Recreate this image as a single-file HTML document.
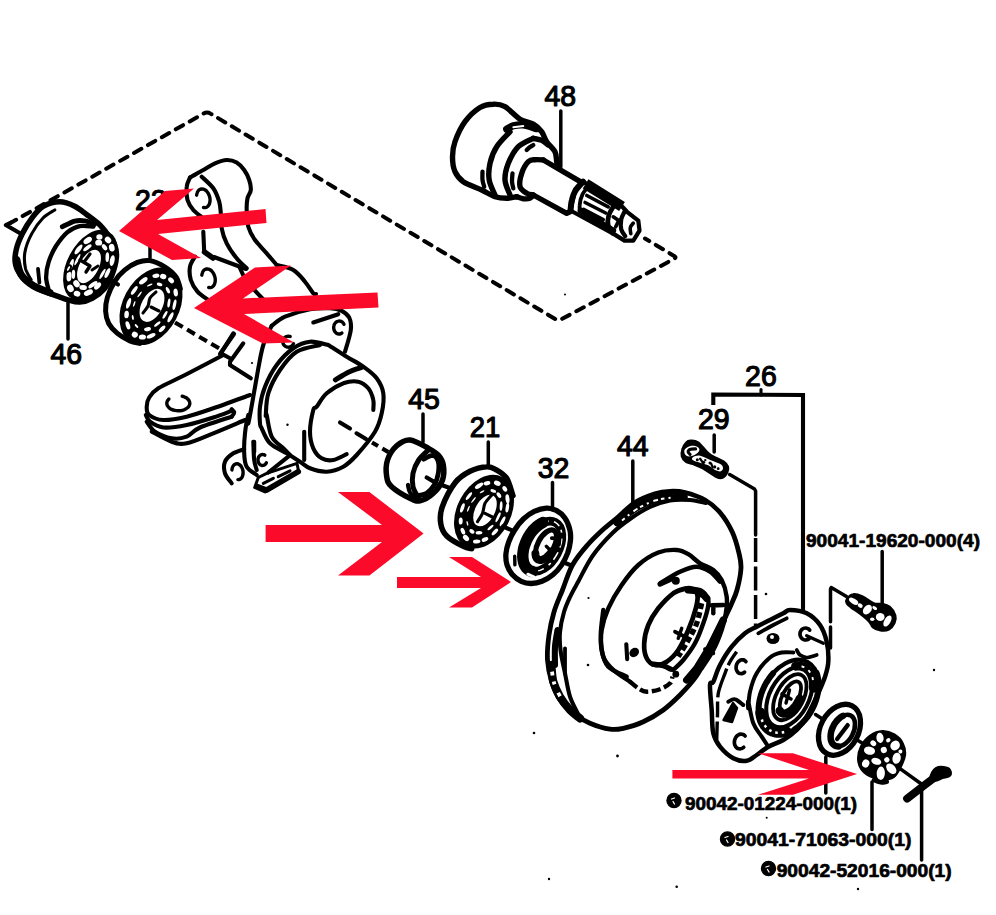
<!DOCTYPE html>
<html lang="en">
<head>
<meta charset="utf-8">
<title>Front axle hub exploded diagram</title>
<style>
html,body{margin:0;padding:0;background:#fff;}
body{width:996px;height:915px;overflow:hidden;}
svg{display:block;}
svg path,svg polyline,svg line,svg ellipse{stroke-linecap:round;stroke-linejoin:round;}
</style>
</head>
<body>
<svg width="996" height="915" viewBox="0 0 996 915">
<rect width="996" height="915" fill="#fff"/>
<g id="frame">
<path d="M10.5 223 L203.5 113.6 Q207 111.4 210.5 113.6 L556 319.5 Q558.5 321 561 319.5 L674.5 258.6 Q676.5 257.4 674.5 256.2 L645 238.5" fill="none" stroke="#000" stroke-width="4" stroke-dasharray="8.4 7.6" style="stroke-linecap:round" stroke-dashoffset="2"/>
<polyline points="11,222.5 5.8,225 20.5,233.5" fill="none" stroke="#000" stroke-width="4.1" />
</g>
<g id="part46">
<path d="M59.8 201.8C65 201.8 70.2 204 74.7 206.2C79.3 208.4 83.2 212 87.2 214.9C91.1 217.8 95.1 220.5 98.4 223.6C101.7 226.7 104.4 230.1 107.1 233.6C109.8 237.1 113 240.9 114.6 244.8C116.1 248.7 116.9 252.3 116.4 257.2C116 262.2 114.1 269.5 112.1 274.7C110.1 279.9 107.9 284.4 104.6 288.4C101.3 292.3 96.3 296.1 92.2 298.3C88 300.6 83.9 301.9 79.7 302.1C75.6 302.3 72.2 301 67.2 299.6C62.3 298.1 55.2 295.4 49.8 293.4C44.4 291.3 39.4 289.8 34.9 287.1C30.3 284.4 25.6 280.9 22.4 277.2C19.2 273.4 16.6 269.3 15.6 264.7C14.5 260.2 15 255 16.2 249.8C17.3 244.6 19.7 239 22.4 233.6C25.1 228.2 28.9 222 32.4 217.4C35.9 212.8 39 208.8 43.6 206.2C48.2 203.6 54.6 201.8 59.8 201.8Z" fill="#fff" stroke="#000" stroke-width="5.5" />
<path d="M54.8 209.9C52.8 211.3 46.8 214.1 43 218C39.1 222 34.8 227.9 31.8 233.6C28.7 239.3 25.9 246.5 24.9 252.3C23.9 258.1 24.5 263.9 25.5 268.5C26.6 273 30.2 277.8 31.1 279.7" fill="none" stroke="#000" stroke-width="3.1" />
<path d="M16.8 259.7C17.5 262.2 18.4 270.3 21.2 274.7C24 279 28.9 282.9 33.6 285.9C38.4 288.9 47.1 291.6 49.8 292.7" fill="none" stroke="#000" stroke-width="7.2" />
<path d="M62.3 226.7C64.3 225.8 71 222.1 74.7 221.1C78.5 220.2 81.4 220.4 84.7 220.9C88 221.4 93 223.7 94.6 224.2" fill="none" stroke="#000" stroke-width="4.8" />
<path d="M93.4 226.7C91.1 226.6 84.1 225.2 79.7 226.1C75.3 227 71.2 229 67.2 232.3C63.3 235.7 59.2 241.1 56 246C52.9 251 50.2 257 48.6 262.2C46.9 267.4 46.1 272.6 46.1 277.2C46.1 281.7 48.2 287.6 48.6 289.6" fill="none" stroke="#000" stroke-width="4.3" />
<line x1="38" y1="268.8" x2="39.4" y2="282.5" stroke="#000" stroke-width="3.8" />
<ellipse cx="90.5" cy="265.5" rx="21.5" ry="36.5" transform="rotate(28 90.5 265.5)" fill="#000" stroke="#000" stroke-width="3.6" />
<ellipse cx="107.4" cy="273.1" rx="5.3" ry="1.9" fill="#fff" transform="rotate(116 107.4 273.1)"/>
<ellipse cx="97.6" cy="286.0" rx="4.3" ry="2.4" fill="#fff" transform="rotate(135 97.6 286.0)"/>
<ellipse cx="88.4" cy="292.6" rx="4.8" ry="2.7" fill="#fff" transform="rotate(156 88.4 292.6)"/>
<ellipse cx="77.0" cy="293.7" rx="3.4" ry="2.8" fill="#fff" transform="rotate(21 77.0 293.7)"/>
<ellipse cx="70.4" cy="288.4" rx="3.8" ry="3.2" fill="#fff" transform="rotate(63 70.4 288.4)"/>
<ellipse cx="69.0" cy="276.5" rx="5.0" ry="2.5" fill="#fff" transform="rotate(92 69.0 276.5)"/>
<ellipse cx="71.3" cy="264.6" rx="5.9" ry="1.9" fill="#fff" transform="rotate(109 71.3 264.6)"/>
<ellipse cx="78.5" cy="249.4" rx="5.9" ry="2.2" fill="#fff" transform="rotate(128 78.5 249.4)"/>
<ellipse cx="87.7" cy="240.5" rx="4.7" ry="2.8" fill="#fff" transform="rotate(145 87.7 240.5)"/>
<ellipse cx="99.4" cy="237.0" rx="3.1" ry="2.8" fill="#fff" transform="rotate(0 99.4 237.0)"/>
<ellipse cx="108.0" cy="240.0" rx="3.5" ry="2.9" fill="#fff" transform="rotate(45 108.0 240.0)"/>
<ellipse cx="111.8" cy="247.7" rx="3.9" ry="2.8" fill="#fff" transform="rotate(77 111.8 247.7)"/>
<ellipse cx="112.2" cy="260.6" rx="5.5" ry="2.4" fill="#fff" transform="rotate(101 112.2 260.6)"/>
<ellipse cx="102.5" cy="273.8" rx="5.9" ry="1.4" fill="#fff" transform="rotate(120 102.5 273.8)"/>
<ellipse cx="92.9" cy="284.7" rx="5.4" ry="2.0" fill="#fff" transform="rotate(144 92.9 284.7)"/>
<ellipse cx="83.1" cy="287.5" rx="3.8" ry="2.5" fill="#fff" transform="rotate(2 83.1 287.5)"/>
<ellipse cx="76.5" cy="283.8" rx="3.8" ry="2.9" fill="#fff" transform="rotate(54 76.5 283.8)"/>
<ellipse cx="73.4" cy="274.4" rx="4.6" ry="1.8" fill="#fff" transform="rotate(92 73.4 274.4)"/>
<ellipse cx="77.4" cy="259.6" rx="6.2" ry="1.3" fill="#fff" transform="rotate(117 77.4 259.6)"/>
<ellipse cx="87.4" cy="247.7" rx="5.0" ry="1.9" fill="#fff" transform="rotate(143 87.4 247.7)"/>
<ellipse cx="98.7" cy="242.7" rx="3.5" ry="2.9" fill="#fff" transform="rotate(5 98.7 242.7)"/>
<ellipse cx="104.5" cy="247.3" rx="3.5" ry="2.1" fill="#fff" transform="rotate(53 104.5 247.3)"/>
<ellipse cx="107.3" cy="257.2" rx="4.9" ry="1.8" fill="#fff" transform="rotate(92 107.3 257.2)"/>
<ellipse cx="89" cy="266.5" rx="9.5" ry="18.2" transform="rotate(28 89 266.5)" fill="#fff" stroke="none" stroke-width="0" />
<polyline points="80,260 90,266 86,272" fill="none" stroke="#000" stroke-width="3.4" />
<polyline points="90,254 84,262" fill="none" stroke="#000" stroke-width="3.1" />
<polyline points="92,270 98,266" fill="none" stroke="#000" stroke-width="2.9" />
<ellipse cx="68.5" cy="268.5" rx="1.9" ry="3.6" transform="rotate(30 68.5 268.5)" fill="#fff" stroke="#000" stroke-width="1.9" />
</g>
<g id="part22">
<path d="M180.3 288.6C179.6 286.6 178.5 280.4 175.9 276.8C173.3 273.1 169.1 269.5 164.7 266.8C160.4 264.1 154.3 261.3 149.8 260.6C145.2 259.8 141.5 260.9 137.3 262.4C133.2 264 128.6 266.8 124.9 269.9C121.1 273 117.8 276.5 114.9 281.1C112 285.7 109 292.3 107.4 297.3C105.9 302.3 105.4 306.6 105.6 311C105.8 315.4 106.7 319.7 108.7 323.5C110.7 327.2 113.9 330.5 117.4 333.4C120.9 336.3 126.1 339.2 129.9 340.9C133.6 342.6 138.2 343 139.8 343.4" fill="none" stroke="#000" stroke-width="5" />
<ellipse cx="151" cy="306.3" rx="26" ry="39" transform="rotate(28 151 306.3)" fill="#000" stroke="#000" stroke-width="4.3" />
<ellipse cx="170.5" cy="317.3" rx="5.6" ry="1.9" fill="#fff" transform="rotate(118 170.5 317.3)"/>
<ellipse cx="162.1" cy="328.8" rx="4.2" ry="1.9" fill="#fff" transform="rotate(135 162.1 328.8)"/>
<ellipse cx="151.1" cy="335.8" rx="4.7" ry="2.0" fill="#fff" transform="rotate(157 151.1 335.8)"/>
<ellipse cx="142.4" cy="337.0" rx="3.6" ry="2.6" fill="#fff" transform="rotate(1 142.4 337.0)"/>
<ellipse cx="134.8" cy="334.7" rx="3.1" ry="2.9" fill="#fff" transform="rotate(32 134.8 334.7)"/>
<ellipse cx="127.9" cy="325.3" rx="4.2" ry="2.1" fill="#fff" transform="rotate(72 127.9 325.3)"/>
<ellipse cx="126.6" cy="314.5" rx="3.8" ry="2.3" fill="#fff" transform="rotate(93 126.6 314.5)"/>
<ellipse cx="128.6" cy="303.4" rx="5.6" ry="2.0" fill="#fff" transform="rotate(109 128.6 303.4)"/>
<ellipse cx="134.3" cy="290.4" rx="5.2" ry="1.8" fill="#fff" transform="rotate(126 134.3 290.4)"/>
<ellipse cx="143.3" cy="280.8" rx="5.0" ry="2.3" fill="#fff" transform="rotate(143 143.3 280.8)"/>
<ellipse cx="155.9" cy="275.8" rx="3.6" ry="2.2" fill="#fff" transform="rotate(171 155.9 275.8)"/>
<ellipse cx="163.2" cy="276.5" rx="3.2" ry="2.6" fill="#fff" transform="rotate(15 163.2 276.5)"/>
<ellipse cx="171.1" cy="280.3" rx="3.4" ry="2.4" fill="#fff" transform="rotate(49 171.1 280.3)"/>
<ellipse cx="175.7" cy="292.6" rx="4.0" ry="2.2" fill="#fff" transform="rotate(83 175.7 292.6)"/>
<ellipse cx="174.5" cy="304.7" rx="5.4" ry="1.6" fill="#fff" transform="rotate(102 174.5 304.7)"/>
<ellipse cx="165.0" cy="314.9" rx="4.4" ry="1.4" fill="#fff" transform="rotate(119 165.0 314.9)"/>
<ellipse cx="157.3" cy="324.0" rx="4.0" ry="1.3" fill="#fff" transform="rotate(140 157.3 324.0)"/>
<ellipse cx="147.5" cy="329.2" rx="3.5" ry="2.0" fill="#fff" transform="rotate(169 147.5 329.2)"/>
<ellipse cx="136.5" cy="326.0" rx="2.4" ry="1.0" fill="#fff" transform="rotate(47 136.5 326.0)"/>
<ellipse cx="132.8" cy="317.5" rx="2.6" ry="1.0" fill="#fff" transform="rotate(81 132.8 317.5)"/>
<ellipse cx="134.2" cy="303.9" rx="3.0" ry="0.8" fill="#fff" transform="rotate(109 134.2 303.9)"/>
<ellipse cx="139.6" cy="294.4" rx="3.6" ry="0.8" fill="#fff" transform="rotate(127 139.6 294.4)"/>
<ellipse cx="149.7" cy="285.0" rx="3.1" ry="0.9" fill="#fff" transform="rotate(155 149.7 285.0)"/>
<ellipse cx="159.6" cy="284.3" rx="2.9" ry="1.7" fill="#fff" transform="rotate(13 159.6 284.3)"/>
<ellipse cx="167.9" cy="290.2" rx="3.5" ry="1.6" fill="#fff" transform="rotate(64 167.9 290.2)"/>
<ellipse cx="168.9" cy="303.0" rx="4.6" ry="1.4" fill="#fff" transform="rotate(98 168.9 303.0)"/>
<ellipse cx="152" cy="305.3" rx="10.4" ry="17.9" transform="rotate(28 152 305.3)" fill="#fff" stroke="none" stroke-width="0" />
<polyline points="151,307 159,311" fill="none" stroke="#000" stroke-width="3.1" />
<path d="M156 292C155 293 151.3 295.7 150 298C148.7 300.3 149.2 303.5 148 306C146.8 308.5 143.8 311.8 143 313" fill="none" stroke="#000" stroke-width="3.1" />
</g>
<g id="knuckle">
<path d="M190 177.5C192.2 176.2 199.2 172.4 203.3 170C207.5 167.6 211.1 165 215 163.3C218.9 161.7 223.1 160.1 226.7 160C230.3 159.9 233.8 160.8 236.7 162.5C239.6 164.2 242.1 167.1 244.2 170C246.3 172.9 248.1 176.7 249.2 180C250.3 183.3 251.1 186.9 250.8 190C250.6 193.1 248.2 195 247.5 198.3C246.8 201.7 246.5 205.3 246.7 210C246.8 214.7 246.9 221.7 248.3 226.7C249.7 231.7 251.9 235.6 255 240C258.1 244.4 263.1 249.2 266.7 253.3C270.3 257.5 275 263.1 276.7 265" fill="#fff" stroke="#000" stroke-width="4.1" />
<path d="M276.7 265C279.4 265.8 288.6 267.2 293.3 270C298.1 272.8 301.7 277.8 305 281.7C308.3 285.6 311.5 291.3 313.3 293.3C315.2 295.4 315.6 293.9 316 294" fill="none" stroke="#000" stroke-width="4.1" />
<path d="M190 177.5C189.4 179 187.1 182.9 186.7 186.7C186.2 190.4 186.4 196.1 187.5 200C188.6 203.9 190.7 206.9 193.3 210C196 213.1 201.7 216.9 203.3 218.3" fill="none" stroke="#000" stroke-width="4.1" />
<path d="M201.7 176.7C203.6 178.6 210.4 184.2 213.3 188.3C216.2 192.5 217.9 197.5 219.2 201.7C220.4 205.8 220.4 208.9 220.8 213.3C221.2 217.8 220.7 223.3 221.7 228.3C222.6 233.3 224.2 238.3 226.7 243.3C229.2 248.3 233.3 254.2 236.7 258.3C240 262.5 245 266.7 246.7 268.3" fill="none" stroke="#000" stroke-width="4.1" />
<path d="M196.6 195.2C196.7 194.8 196.9 193.5 197.2 192.8C197.4 192.1 197.8 191.5 198.2 190.9C198.6 190.4 199.1 189.9 199.7 189.6C200.2 189.3 200.8 189.1 201.4 189C202 188.9 202.7 189 203.3 189.1C203.9 189.3 204.6 189.6 205.2 190C205.8 190.4 206.4 190.9 206.9 191.5C207.4 192.1 207.9 192.8 208.4 193.6C208.8 194.3 209.1 195.2 209.4 196C209.7 196.9 209.9 197.8 210 198.6C210.1 199.5 210.1 200.4 210 201.2C209.9 202.1 209.7 202.9 209.5 203.6C209.2 204.3 208.9 205 208.5 205.5C208.1 206.1 207.6 206.6 207.1 206.9C206.5 207.2 205.9 207.5 205.3 207.6C204.7 207.7 203.8 207.5 203.5 207.5" fill="none" stroke="#000" stroke-width="3.4" />
<line x1="203.3" y1="231.7" x2="204.2" y2="251.7" stroke="#000" stroke-width="4.1" />
<polyline points="204.5,252 213,258" fill="none" stroke="#000" stroke-width="5.5" />
<line x1="214" y1="257" x2="246" y2="269" stroke="#000" stroke-width="4.1" />
<path d="M195 256.7C194.2 258.3 190.7 262.8 190 266.7C189.3 270.6 189.6 275.8 190.8 280C192.1 284.2 194.6 288.3 197.5 291.7C200.4 295 206.5 298.6 208.3 300" fill="none" stroke="#000" stroke-width="4.1" />
<path d="M201.8 275.2C201.9 274.8 202.1 273.5 202.4 272.8C202.6 272.1 203 271.5 203.4 270.9C203.8 270.4 204.3 269.9 204.9 269.6C205.4 269.3 206 269.1 206.6 269C207.2 268.9 207.9 269 208.5 269.1C209.1 269.3 209.8 269.6 210.4 270C211 270.4 211.6 270.9 212.1 271.5C212.6 272.1 213.1 272.8 213.6 273.6C214 274.3 214.3 275.2 214.6 276C214.9 276.9 215.1 277.8 215.2 278.6C215.3 279.5 215.3 280.4 215.2 281.2C215.1 282.1 214.9 282.9 214.7 283.6C214.4 284.3 214.1 285 213.7 285.5C213.3 286.1 212.8 286.6 212.3 286.9C211.7 287.2 211.1 287.5 210.5 287.6C209.9 287.7 209 287.5 208.7 287.5" fill="none" stroke="#000" stroke-width="3.4" />
<path d="M240 268C241 270 242.7 275.3 246 280C249.3 284.7 255.3 291 260 296C264.7 301 271.7 307.7 274 310" fill="none" stroke="#000" stroke-width="4.1" />
<polyline points="233.3,333.3 220.8,353.3 230,358.3" fill="none" stroke="#000" stroke-width="4.1" />
<polyline points="243.3,343.3 230,361.7 230,365 250.8,378.3" fill="none" stroke="#000" stroke-width="4.1" />
<polyline points="234,334 220,354" fill="none" stroke="#000" stroke-width="4.1" />
<path d="M223.3 355C216.9 358.3 195.8 369.4 185 375C174.2 380.6 164.3 384.6 158.3 388.3C152.4 392.1 151.1 394.4 149.2 397.5C147.2 400.6 146.7 403.8 146.7 406.7C146.7 409.6 146.4 412.8 149.2 415C151.9 417.2 157.1 419.7 163.3 420C169.6 420.3 178.3 418.6 186.7 416.7C195 414.7 202.8 411.9 213.3 408.3C223.9 404.7 243.9 397.2 250 395" fill="none" stroke="#000" stroke-width="4.1" />
<path d="M145.8 415C146.5 416.1 147.1 419.6 150 421.7C152.9 423.8 157.2 426.9 163.3 427.5C169.4 428.1 178.3 426.7 186.7 425C195 423.3 205.8 419.9 213.3 417.5C220.8 415.1 228.6 411.9 231.7 410.8" fill="none" stroke="#000" stroke-width="4.1" />
<path d="M146.7 421.7C148.1 423.3 150.8 428.9 155 431.7C159.2 434.4 166.4 437.5 171.7 438.3C176.9 439.2 181.9 438.5 186.7 436.7C191.4 434.9 192.5 430.8 200 427.5C207.5 424.2 226.4 418.5 231.7 416.7" fill="none" stroke="#000" stroke-width="4.1" />
<path d="M231.7 416.7C232.1 416 234.2 413.8 234.2 412.5C234.2 411.2 232.1 409.7 231.7 409.2" fill="none" stroke="#000" stroke-width="4.1" />
<path d="M151.7 431.7C155 433.3 165.8 439.7 171.7 441.7C177.5 443.6 179.7 444.7 186.7 443.3C193.6 441.9 203.6 437.2 213.3 433.3C223.1 429.4 239.7 422.2 245 420" fill="none" stroke="#000" stroke-width="4.1" />
<path d="M182.2 396.3C182.8 396.4 184.4 396.9 185.4 397.4C186.3 397.8 187.1 398.4 187.8 399.1C188.5 399.7 189 400.4 189.3 401.2C189.7 401.9 189.8 402.7 189.8 403.5C189.8 404.2 189.6 405 189.2 405.7C188.8 406.5 188.2 407.2 187.5 407.8C186.8 408.4 185.9 409 184.9 409.4C184 409.9 182.9 410.2 181.8 410.5C180.6 410.7 179.4 410.8 178.2 410.8C177.1 410.8 175.8 410.7 174.7 410.4C173.6 410.2 172.5 409.8 171.6 409.4C170.6 408.9 169.7 408.4 169 407.7C168.3 407.1 167.8 406.4 167.4 405.7C167 404.9 166.8 404.1 166.8 403.4C166.8 402.6 167 401.8 167.3 401.1C167.7 400.4 168.6 399.3 168.9 399" fill="none" stroke="#000" stroke-width="3.4" />
<path d="M271.7 325.8C273.9 324.3 278.6 319.4 285 316.7C291.4 313.9 302.5 310.6 310 309.2C317.5 307.8 324.7 308.1 330 308.3C335.3 308.6 338.5 309.3 341.7 310.8C344.9 312.4 347.6 314.3 349.2 317.5C350.7 320.7 351.5 324.3 350.8 330C350.1 335.7 346 348.1 345 351.7" fill="none" stroke="#000" stroke-width="4.1" />
<polyline points="313.3,322.5 338.3,314.2" fill="none" stroke="#000" stroke-width="4.1" />
<path d="M341.9 333.1C341.7 333.2 341 333.7 340.4 333.8C339.9 334 339.4 334 338.8 334C338.3 333.9 337.8 333.8 337.3 333.6C336.8 333.4 336.3 333 335.9 332.7C335.4 332.3 335 331.8 334.7 331.3C334.4 330.8 334.2 330.2 334 329.6C333.8 329 333.7 328.3 333.7 327.7C333.7 327.1 333.7 326.4 333.9 325.8C334 325.2 334.2 324.6 334.5 324.1C334.8 323.5 335.2 323 335.6 322.6C336 322.2 336.4 321.8 336.9 321.6C337.4 321.3 338 321.1 338.5 321.1C339 321 339.6 321 340.1 321.1C340.6 321.2 341.2 321.4 341.6 321.7C342.1 321.9 342.6 322.3 343 322.8C343.3 323.2 343.8 324 344 324.2" fill="none" stroke="#000" stroke-width="3.4" />
<path d="M293.5 343.6C293.3 343.8 293 344.6 292.7 345C292.4 345.4 292 345.8 291.6 346.1C291.1 346.5 290.6 346.7 290.1 346.9C289.6 347.1 289.1 347.2 288.5 347.2C288 347.2 287.5 347.2 286.9 347C286.4 346.9 285.9 346.7 285.4 346.4C285 346.1 284.6 345.8 284.2 345.4C283.8 345 283.5 344.5 283.3 344C283.1 343.5 282.9 343 282.9 342.5C282.8 342 282.8 341.4 282.9 340.9C282.9 340.3 283.1 339.8 283.3 339.3C283.6 338.8 283.9 338.4 284.2 338C284.6 337.6 285 337.2 285.5 337C286 336.7 286.5 336.5 287 336.4C287.5 336.2 288.1 336.2 288.6 336.2C289.1 336.2 289.9 336.5 290.2 336.5" fill="none" stroke="#000" stroke-width="3.4" />
<path d="M271.7 325.8C270.3 329 265.6 337.9 263.3 345C261.1 352.1 260 359.7 258.3 368.3C256.7 376.9 255 387.5 253.3 396.7C251.7 405.8 249.2 420.3 248.3 423.3C247.5 426.4 248.9 413.3 248.3 415C247.8 416.7 245.7 426.9 245 433.3C244.3 439.7 243.9 447.8 244.2 453.3C244.4 458.9 244.6 463.1 246.7 466.7C248.8 470.3 255 473.6 256.7 475" fill="none" stroke="#000" stroke-width="4.1" />
<path d="M253.3 441.7C253.5 444.7 253.6 455.3 254.2 460C254.7 464.7 256.2 468.3 256.7 470" fill="none" stroke="#000" stroke-width="4.1" />
<line x1="254.2" y1="441.7" x2="254.2" y2="452" stroke="#000" stroke-width="4.1" />
<path d="M328.3 345C325.3 344.4 315.8 341.1 310 341.7C304.2 342.2 298.9 344.4 293.3 348.3C287.8 352.2 281.4 358.6 276.7 365C271.9 371.4 267.8 379.7 265 386.7C262.2 393.6 260.8 400.6 260 406.7C259.2 412.8 259.7 419.7 260 423.3C260.3 426.9 260 425 261.7 428.3C263.3 431.7 265.8 439.2 270 443.3C274.2 447.5 281.7 450.3 286.7 453.3C291.7 456.4 296.1 459.2 300 461.7C303.9 464.2 305.6 466.7 310 468.3C314.4 470 321.1 471.9 326.7 471.7C332.2 471.4 338.3 469.4 343.3 466.7C348.3 463.9 351.4 460.8 356.7 455C361.9 449.2 370.8 438.6 375 431.7C379.2 424.7 380.3 419.7 381.7 413.3C383.1 406.9 384.2 399.2 383.3 393.3C382.5 387.5 380 382.8 376.7 378.3C373.3 373.9 368.3 370.3 363.3 366.7C358.3 363.1 352.5 360.3 346.7 356.7C340.8 353.1 331.4 346.9 328.3 345" fill="none" stroke="#000" stroke-width="4.1" />
<path d="M320 345C316.1 346.1 303.3 347.5 296.7 351.7C290 355.8 284.7 363.1 280 370C275.3 376.9 270.7 385.8 268.3 393.3C266 400.8 266.1 411.4 265.8 415C265.6 418.6 265.7 411.4 266.7 415C267.6 418.6 268.9 431.1 271.7 436.7C274.4 442.2 280.3 445.3 283.3 448.3C286.4 451.4 288.9 453.9 290 455" fill="none" stroke="#000" stroke-width="4.1" />
<path d="M335.4 379.8C336.7 379 340.6 376.5 343 375.2C345.4 373.9 347.3 372.8 349.5 371.8C351.7 370.8 354 369.9 356 369.2C358 368.5 360.6 367.7 361.5 367.4" fill="none" stroke="#000" stroke-width="5" />
<path d="M346.7 454.2C344.4 455.1 337.5 459.3 333.3 460C329.2 460.7 325 460.3 321.7 458.3C318.3 456.4 315.3 452.8 313.3 448.3C311.4 443.9 310 438.1 310 431.7C310 425.3 312.2 414.2 313.3 410C314.4 405.8 314.4 409.4 316.7 406.7C318.9 403.9 322.2 397.2 326.7 393.3C331.1 389.4 338.1 385.3 343.3 383.3C348.6 381.4 354.2 380.8 358.3 381.7C362.5 382.5 365.8 385.3 368.3 388.3C370.8 391.4 372.5 396.4 373.3 400C374.2 403.6 373.3 408.3 373.3 410" fill="none" stroke="#000" stroke-width="4.1" />
<line x1="304.2" y1="431.7" x2="304.2" y2="460" stroke="#000" stroke-width="4.1" />
<line x1="340" y1="422.5" x2="350" y2="428.5" stroke="#000" stroke-width="4.1" />
<line x1="356.5" y1="433.3" x2="366" y2="439" stroke="#000" stroke-width="4.1" />
<circle cx="287.5" cy="424.8" r="1.2"/><circle cx="252" cy="363" r="1.1"/>
<path d="M244.2 449.2C242.4 449.9 236.5 451.2 233.3 453.3C230.1 455.4 226.4 458.3 225 461.7C223.6 465 223.9 469.7 225 473.3C226.1 476.9 230.6 481.7 231.7 483.3" fill="none" stroke="#000" stroke-width="4.1" />
<path d="M231.9 469.9C232 469.6 232.1 468.5 232.3 467.8C232.5 467.2 232.8 466.5 233.1 466C233.4 465.5 233.8 465.1 234.2 464.7C234.7 464.4 235.2 464.1 235.6 463.9C236.1 463.8 236.7 463.7 237.2 463.8C237.7 463.8 238.3 464 238.8 464.3C239.3 464.5 239.8 464.9 240.2 465.3C240.7 465.8 241.1 466.3 241.5 466.9C241.9 467.5 242.2 468.2 242.4 468.9C242.7 469.6 242.9 470.4 243 471.1C243.1 471.8 243.1 472.6 243.1 473.3C243 474.1 242.9 474.8 242.7 475.4C242.6 476.1 242.3 476.7 242 477.2C241.7 477.8 241.3 478.2 240.9 478.6C240.4 479 240 479.3 239.5 479.4C239 479.6 238.2 479.6 237.9 479.6" fill="none" stroke="#000" stroke-width="3.4" />
<path d="M266.4 462.8C266.3 463 265.9 463.7 265.6 464C265.3 464.4 264.9 464.7 264.5 464.9C264.1 465.2 263.7 465.3 263.2 465.4C262.8 465.5 262.3 465.5 261.9 465.5C261.5 465.4 261 465.2 260.6 465C260.2 464.8 259.9 464.5 259.5 464.1C259.2 463.8 258.9 463.4 258.7 462.9C258.4 462.5 258.3 461.9 258.2 461.4C258 460.9 258 460.4 258 459.8C258 459.3 258.1 458.7 258.2 458.2C258.4 457.7 258.6 457.2 258.8 456.8C259.1 456.4 259.4 456 259.8 455.6C260.1 455.3 260.5 455 260.9 454.9C261.3 454.7 261.8 454.5 262.2 454.5C262.6 454.5 263.1 454.5 263.5 454.6C263.9 454.8 264.5 455.1 264.8 455.2" fill="none" stroke="#000" stroke-width="3.4" />
<polygon points="258.3,477.5 254.7,487.5 265,492 298.7,472 297,463.3 266.7,473.3" fill="#fff" stroke="#000" stroke-width="3" stroke-linejoin="round"/>
<polyline points="257.5,486.7 266.7,490 298.3,471.7" fill="none" stroke="#000" stroke-width="5.5" />
<polyline points="263.3,483.3 273.3,478.3" fill="none" stroke="#000" stroke-width="3.1" />
<polyline points="278.3,476.7 290,470.8" fill="none" stroke="#000" stroke-width="3.1" />
<polyline points="268.3,472.5 288.3,456.7" fill="none" stroke="#000" stroke-width="4.1" />
</g>
<g id="part48">
<path d="M516.7 196.7C515 196.9 510.3 198.3 506.7 198.3C503.1 198.3 499.2 198.1 495 196.7C490.8 195.3 486.9 192.5 481.7 190C476.4 187.5 467.8 184.7 463.3 181.7C458.9 178.6 456.8 175.8 455 171.7C453.2 167.5 452.5 161.7 452.5 156.7C452.5 151.7 452.9 147.5 455 141.7C457.1 135.8 460.8 127.4 465 121.7C469.2 116 475.3 110.4 480 107.5C484.7 104.6 489.2 104.3 493.3 104.2C497.5 104 500.6 104.2 505 106.7C509.4 109.2 515.3 116.2 520 119.2C524.7 122.1 529.7 122.1 533.3 124.2C536.9 126.2 539.4 128.8 541.7 131.7C543.9 134.6 544.4 138.3 546.7 141.7C548.9 145 553.3 148.3 555 151.7C556.7 155 556.2 159.2 556.7 161.7C557.1 164.2 557.4 165.8 557.5 166.7" fill="none" stroke="#000" stroke-width="5.4" />
<path d="M510 131.7C507.8 134.2 500 141.4 496.7 146.7C493.3 151.9 491.2 157.8 490 163.3C488.8 168.9 488.3 174.7 489.2 180C490 185.3 494 192.5 495 195" fill="none" stroke="#000" stroke-width="5.4" />
<path d="M533.3 138.3C530.8 139.7 522.5 142.5 518.3 146.7C514.2 150.8 510.6 157.8 508.3 163.3C506.1 168.9 504.7 174.7 505 180C505.3 185.3 509.2 192.5 510 195" fill="none" stroke="#000" stroke-width="5.4" />
<path d="M533.3 138.3C534.7 138.7 539.2 139.2 541.7 140.3C544.2 141.4 547.2 144.2 548.3 145" fill="none" stroke="#000" stroke-width="5.4" />
<path d="M526.7 150C527.2 149.5 528.9 147.8 530 147C531.1 146.2 532.8 145.3 533.3 145" fill="none" stroke="#000" stroke-width="4.3" />
<path d="M512.5 173.3C512.4 174.7 511.9 179.2 512 181.7C512.1 184.2 513.1 187.2 513.3 188.3" fill="none" stroke="#000" stroke-width="4.3" />
<path d="M482.5 171.7C482.5 173.1 482.2 177.5 482.5 180C482.8 182.5 483.9 185.6 484.2 186.7" fill="none" stroke="#000" stroke-width="4.3" />
<path d="M506.7 129.2C507.8 128.6 510.6 126.5 513.3 125.8C516.1 125.1 519.4 124.5 523.3 125C527.2 125.5 534.4 128.1 536.7 128.7" fill="none" stroke="#000" stroke-width="7.2" />
<polyline points="513.3,127.2 523.3,126" fill="none" stroke="#fff" stroke-width="1.9" />
<path d="M516.7 196.7C517.8 197 521.1 198.4 523.3 198.7C525.6 198.9 528.3 198.9 530 198.3C531.7 197.7 532.8 195.6 533.3 195" fill="none" stroke="#000" stroke-width="5.4" />
<path d="M543.3 160C541.9 159.9 537.5 159.4 535 159.7C532.5 159.9 530.6 159.4 528.3 161.7C526.1 163.9 523.1 169.2 521.7 173.3C520.3 177.5 519.2 183.3 520 186.7C520.8 190 524.4 191.9 526.7 193.3C528.9 194.7 532.2 194.7 533.3 195" fill="none" stroke="#000" stroke-width="5.4" />
<polyline points="543.3,160 583.3,183.3 585,184.2" fill="none" stroke="#000" stroke-width="5.4" />
<polyline points="533.3,195 566.7,213.3 570,211.7" fill="none" stroke="#000" stroke-width="5.4" />
<polygon points="583.1,181.7 620.7,205 627,211.8 638.3,220.6 639.5,230.6 633.3,240.6 624.5,240.6 613.2,233.6 570.5,210.5 574.3,193" fill="#fff" stroke="#000" stroke-width="4.2" stroke-linejoin="round"/>
<path d="M583.1 181.7C581.8 183.1 577.4 187.3 575.5 190.4C573.7 193.6 572.6 197.1 571.8 200.5C570.9 203.8 570.7 208.8 570.5 210.5" fill="none" stroke="#000" stroke-width="6" />
<path d="M589.3 185.4C588.2 186.9 584.2 190.9 582.6 194.2C580.9 197.6 579.9 202.2 579.6 205.5C579.2 208.8 580.4 212.8 580.6 214.3" fill="none" stroke="#000" stroke-width="3.8" />
<polyline points="585.6,183.9 622,206.5" fill="none" stroke="#000" stroke-width="10.8" style="stroke-linecap:butt"/>
<polyline points="580.6,210.5 613.2,230.6" fill="none" stroke="#000" stroke-width="6" />
<polyline points="586.8,195.5 608.2,206.8" fill="none" stroke="#000" stroke-width="3.6" />
<polyline points="585.1,202.5 605.7,213" fill="none" stroke="#000" stroke-width="3.6" />
<polyline points="583.6,209.3 603.2,219.6" fill="none" stroke="#000" stroke-width="3.6" />
<path d="M613.2 206.8C612.4 208.2 609.5 212.4 608.7 215.5C607.8 218.7 607.5 222.7 608.2 225.6C608.8 228.5 611.9 231.9 612.7 233.1" fill="none" stroke="#000" stroke-width="4.8" />
<path d="M624.5 211.8C623.9 213 621.8 216.4 621.2 219.3C620.7 222.2 620.6 226.5 621.2 229.3C621.9 232.2 624.6 235 625.2 236.1" fill="none" stroke="#000" stroke-width="4.3" />
<polyline points="613.2,216.8 618.7,220.6 615.7,226.8" fill="none" stroke="#000" stroke-width="3.6" />
<path d="M633.3 223.1C632.8 223.8 630.7 225.8 630.3 227.6C629.8 229.3 630.7 232.6 630.8 233.6" fill="none" stroke="#000" stroke-width="3.6" />
</g>
<g id="part45">
<path d="M410 440C415.3 440.4 423.6 445.8 428.3 448.3C433.1 450.8 435.8 452.2 438.3 455C440.8 457.8 442.6 460.8 443.3 465C444 469.2 444.2 475.3 442.5 480C440.8 484.7 437.1 489.9 433.3 493.3C429.6 496.8 423.9 500 420 500.8C416.1 501.7 414.7 500.7 410 498.3C405.3 496 395.6 490.3 391.7 486.7C387.8 483.1 387.4 481.1 386.7 476.7C386 472.2 385.8 465.1 387.5 460C389.2 454.9 392.9 449.2 396.7 445.8C400.4 442.5 404.7 439.6 410 440Z" fill="#fff" stroke="#000" stroke-width="5.5" />
<path d="M428.7 449.7C427 451.4 421.3 456.1 418.7 460C416.1 463.9 413.9 468.9 413 473.3C412.1 477.8 412.1 482.6 413 486.7C413.9 490.8 417.7 496.1 418.7 498" fill="none" stroke="#000" stroke-width="5" />
<path d="M423.7 459.2C425.1 458.5 430.1 455.1 432.5 455.3C434.9 455.6 437 457.8 438 460.8C439 463.8 439 469.3 438.3 473.3C437.7 477.4 436.1 481.7 434.2 485C432.2 488.3 429.1 491.6 426.7 493.3C424.2 495.1 420.6 495 419.3 495.3" fill="none" stroke="#000" stroke-width="4.8" />
<path d="M408 485C408.4 486.3 408.6 490.8 410.3 493C412.1 495.2 417 497.2 418.3 498" fill="none" stroke="#000" stroke-width="4.3" />
<polyline points="426.7,477.5 436.7,483.3" fill="none" stroke="#000" stroke-width="4.3" />
</g>
<g id="part21">
<path d="M513 495.8C511.9 492.9 509.4 482.6 506.7 478.3C503.9 474 500 471.9 496.7 470C493.3 468.1 491.1 466.4 486.7 466.7C482.2 466.9 475.2 468.7 470 471.3C464.8 474 459.9 476.6 455.3 482.5C450.7 488.4 444.8 499.9 442.3 506.7C439.9 513.5 439.9 518.4 440.7 523.3C441.4 528.3 443.2 532.5 447 536.3C450.8 540.2 459.2 544.3 463.3 546.3C467.4 548.4 470.3 548.3 471.7 548.7" fill="none" stroke="#000" stroke-width="5.5" />
<ellipse cx="484" cy="511.6" rx="24.6" ry="37" transform="rotate(28 484 511.6)" fill="#000" stroke="#000" stroke-width="4.3" />
<ellipse cx="502.6" cy="521.3" rx="5.4" ry="1.6" fill="#fff" transform="rotate(117 502.6 521.3)"/>
<ellipse cx="494.9" cy="532.0" rx="4.2" ry="1.8" fill="#fff" transform="rotate(134 494.9 532.0)"/>
<ellipse cx="485.0" cy="539.4" rx="3.5" ry="2.0" fill="#fff" transform="rotate(155 485.0 539.4)"/>
<ellipse cx="476.7" cy="541.5" rx="3.7" ry="2.0" fill="#fff" transform="rotate(178 476.7 541.5)"/>
<ellipse cx="466.0" cy="538.0" rx="3.5" ry="2.5" fill="#fff" transform="rotate(43 466.0 538.0)"/>
<ellipse cx="462.9" cy="531.2" rx="3.5" ry="2.0" fill="#fff" transform="rotate(67 462.9 531.2)"/>
<ellipse cx="460.7" cy="521.0" rx="3.6" ry="2.0" fill="#fff" transform="rotate(91 460.7 521.0)"/>
<ellipse cx="462.4" cy="507.9" rx="4.9" ry="1.7" fill="#fff" transform="rotate(110 462.4 507.9)"/>
<ellipse cx="468.9" cy="496.1" rx="4.7" ry="1.6" fill="#fff" transform="rotate(127 468.9 496.1)"/>
<ellipse cx="479.1" cy="485.7" rx="4.8" ry="2.1" fill="#fff" transform="rotate(147 479.1 485.7)"/>
<ellipse cx="487.0" cy="483.2" rx="3.4" ry="2.0" fill="#fff" transform="rotate(166 487.0 483.2)"/>
<ellipse cx="497.3" cy="483.3" rx="3.5" ry="2.4" fill="#fff" transform="rotate(21 497.3 483.3)"/>
<ellipse cx="504.8" cy="488.9" rx="3.0" ry="2.1" fill="#fff" transform="rotate(58 504.8 488.9)"/>
<ellipse cx="507.5" cy="498.9" rx="4.7" ry="2.0" fill="#fff" transform="rotate(84 507.5 498.9)"/>
<ellipse cx="507.3" cy="507.7" rx="4.9" ry="1.7" fill="#fff" transform="rotate(99 507.3 507.7)"/>
<ellipse cx="498.1" cy="517.3" rx="5.4" ry="1.3" fill="#fff" transform="rotate(115 498.1 517.3)"/>
<ellipse cx="490.5" cy="527.5" rx="3.9" ry="1.2" fill="#fff" transform="rotate(138 490.5 527.5)"/>
<ellipse cx="479.0" cy="532.7" rx="3.4" ry="1.8" fill="#fff" transform="rotate(177 479.0 532.7)"/>
<ellipse cx="471.9" cy="531.4" rx="2.9" ry="1.9" fill="#fff" transform="rotate(36 471.9 531.4)"/>
<ellipse cx="467.4" cy="523.4" rx="2.4" ry="0.8" fill="#fff" transform="rotate(77 467.4 523.4)"/>
<ellipse cx="468.4" cy="508.7" rx="3.2" ry="0.8" fill="#fff" transform="rotate(111 468.4 508.7)"/>
<ellipse cx="473.5" cy="500.0" rx="3.6" ry="0.7" fill="#fff" transform="rotate(128 473.5 500.0)"/>
<ellipse cx="482.1" cy="491.7" rx="2.7" ry="0.8" fill="#fff" transform="rotate(152 482.1 491.7)"/>
<ellipse cx="493.3" cy="490.9" rx="3.0" ry="1.6" fill="#fff" transform="rotate(19 493.3 490.9)"/>
<ellipse cx="498.9" cy="495.1" rx="3.2" ry="1.8" fill="#fff" transform="rotate(57 498.9 495.1)"/>
<ellipse cx="501.1" cy="506.2" rx="4.9" ry="1.4" fill="#fff" transform="rotate(93 501.1 506.2)"/>
<ellipse cx="485" cy="510.6" rx="9.8" ry="17" transform="rotate(28 485 510.6)" fill="#fff" stroke="none" stroke-width="0" />
<polyline points="485,513.3 493.3,517.5" fill="none" stroke="#000" stroke-width="3.1" />
<path d="M491.7 495C490.6 496.4 486.5 500.3 485 503.3C483.5 506.4 483.8 510.3 482.5 513.3C481.2 516.4 478.3 520.3 477.5 521.7" fill="none" stroke="#000" stroke-width="3.1" />
</g>
<g id="part32">
<path d="M546.4 508.1C550 507.9 553.1 508.7 556.2 510.3C559.3 511.9 562.7 514.7 564.9 518C567.2 521.2 569 526.1 569.9 530C570.8 533.8 570.8 537.1 570.4 540.9C570 544.7 569.1 548.9 567.7 552.9C566.2 556.9 564.1 561.3 561.7 564.9C559.2 568.6 556.2 572 552.9 574.8C549.6 577.5 545.6 579.9 542 581.3C538.4 582.8 534.5 583.5 531.1 583.5C527.6 583.5 524.3 582.8 521.2 581.3C518.1 579.9 514.9 577.5 512.5 574.8C510.1 572 508.1 568.4 507 564.9C505.9 561.5 505.7 557.8 505.9 554C506.2 550.2 507.2 546 508.7 542C510.1 538 512.2 533.8 514.7 530C517.1 526.1 520.1 522.1 523.4 519C526.7 515.9 530.5 513.2 534.3 511.4C538.2 509.6 542.7 508.3 546.4 508.1Z" fill="#fff" stroke="#000" stroke-width="5.3" />
<ellipse cx="542.6" cy="546.2" rx="16.5" ry="27" transform="rotate(28 542.6 546.2)" fill="none" stroke="#000" stroke-width="8.6" />
<ellipse cx="542.6" cy="546.2" rx="16.5" ry="27" transform="rotate(28 542.6 546.2)" fill="none" stroke="#fff" stroke-width="1.6" stroke-dasharray="7 4 3 6 9 5" style="stroke-linecap:butt"/>
<path d="M532.5 571.5 L530.7 571 L529 570.1 L527.6 569 L526.2 567.6 L525.1 565.9 L524.2 564.1 L523.5 562 L523.1 559.7 L522.8 557.2 L522.8 554.6 L523.1 552 L523.5 549.2 L524.2 546.4 L525.2 543.7 L526.3 540.9 L527.6 538.2 L529.1 535.6 L530.7 533.2 L532.5 530.8 L534.5 528.7 L536.5 526.8 L538.6 525.1 L540.7 523.6 L542.8 522.5" fill="none" stroke="#000" stroke-width="11.4" />
<ellipse cx="546" cy="545" rx="8.2" ry="16.5" transform="rotate(28 546 545)" fill="none" stroke="#000" stroke-width="5.3" />
<path d="M551.8 551.3 L551 552.5 L550.2 553.6 L549.3 554.6 L548.4 555.6 L547.5 556.5 L546.6 557.3 L545.6 558 L544.7 558.6 L543.8 559.1 L542.9 559.5 L542 559.8 L541.2 560 L540.4 560.1 L539.6 560 L538.9 559.8 L538.3 559.6 L537.7 559.2 L537.1 558.7 L536.6 558.1 L536.2 557.4 L535.9 556.6 L535.7 555.7 L535.5 554.7 L535.4 553.7" fill="none" stroke="#000" stroke-width="7.9" />
<polyline points="551.8,538.2 559.5,538.7 558.9,544.7" fill="none" stroke="#000" stroke-width="3.8" />
<polyline points="546.4,546.4 551.8,551.8" fill="none" stroke="#000" stroke-width="3.4" />
<polyline points="514.7,556.2 514.9,564.9" fill="none" stroke="#000" stroke-width="3.4" />
<polyline points="535.4,518.2 541.4,514.9" fill="none" stroke="#fff" stroke-width="3.1" />
<polyline points="527.8,574.2 534.3,577" fill="none" stroke="#fff" stroke-width="2.9" />
</g>
<g id="axis">
<line x1="112" y1="281" x2="118" y2="284.5" stroke="#000" stroke-width="4.1" />
<line x1="175" y1="322.5" x2="221" y2="349.5" stroke="#000" stroke-width="4.1" stroke-dasharray="9 5" style="stroke-linecap:butt"/>
<line x1="372" y1="442.5" x2="389" y2="452.5" stroke="#000" stroke-width="4.1" stroke-dasharray="7 5" style="stroke-linecap:butt"/>
<line x1="441.5" y1="485" x2="448.5" y2="487.5" stroke="#000" stroke-width="4.1" />
<line x1="503" y1="526.5" x2="513.5" y2="531" stroke="#000" stroke-width="4.1" />
<line x1="565" y1="563" x2="575.5" y2="567" stroke="#000" stroke-width="4.1" />
</g>
<g id="part44">
<path d="M610 729.2C604.5 728.4 596.1 725.9 590 723.3C583.9 720.6 578.3 717.2 573.3 713.3C568.3 709.4 563.6 705.3 560 700C556.4 694.7 553.8 688.4 551.7 681.7C549.6 675 548 667.8 547.5 660C547 652.2 547.9 643 549 635C550.1 627 551.8 619.5 554 612C556.2 604.5 559.4 597.8 562.5 590C565.6 582.2 568.3 572.5 572.5 565C576.7 557.5 582.5 550.8 587.5 545C592.5 539.2 597.5 534.6 602.5 530C607.5 525.4 612.1 522.1 617.5 517.5C622.9 512.9 628.8 506.4 635 502.5C641.2 498.6 649.2 495.7 655 493.8C660.8 491.9 665 491.5 670 491.3C675 491.1 679.2 491.1 685 492.5C690.8 493.9 699.2 496.7 705 500C710.8 503.3 715.4 507.1 720 512.5C724.6 517.9 729.4 525.8 732.5 532.5C735.6 539.2 737.4 546.6 738.8 552.5C740.2 558.4 741.3 561.8 741 568C740.7 574.2 738.7 583.8 737 590C735.3 596.2 733 600.3 731 605C729 609.7 727.2 613 725 618C722.8 623 721 628.5 718 635C715 641.5 710.7 650 707 657C703.3 664 700.5 670.4 696 676.7C691.5 683 685.5 689.5 680 695C674.5 700.5 669.4 705.5 663.3 710C657.2 714.5 650 718.7 643.3 721.7C636.6 724.8 628.8 727 623.3 728.3C617.8 729.5 615.5 730 610 729.2Z" fill="#fff" stroke="#000" stroke-width="4.8" />
<path d="M578 714C576.7 711.1 572.2 703.5 570 696.7C567.8 689.9 566.6 681.1 565 673.3C563.4 665.5 561.3 656.9 560.5 650C559.7 643.1 559.4 638.3 560 632C560.6 625.7 562.3 617.8 564 612C565.7 606.2 567.7 602 570 597C572.3 592 574.2 588.8 578 582C581.8 575.2 586.8 564.2 592.5 556C598.2 547.8 606.2 539.2 612.5 533C618.8 526.8 623.8 523.3 630 519C636.2 514.7 643.3 510.1 650 507C656.7 503.9 663.3 501.7 670 500.5C676.7 499.3 684 499.6 690 500C696 500.4 703.3 502.5 706 503" fill="none" stroke="#000" stroke-width="4.1" />
<path d="M617 522.5C620 520.2 628.7 512.3 635 508.5C641.3 504.7 648.8 501.5 655 499.5C661.2 497.5 667.2 496.9 672 496.5C676.8 496.1 682 496.9 684 497" fill="none" stroke="#000" stroke-width="7.6" />
<path d="M622 520.5C624.5 518.6 631.5 512.3 637 509C642.5 505.7 649.2 502.4 655 500.5C660.8 498.6 669.2 498 672 497.5" fill="none" stroke="#fff" stroke-width="2" stroke-dasharray="3.5 4 2 5 5 3" style="stroke-linecap:butt"/>
<path d="M557.5 630C557.1 632.8 555.4 640.8 555 646.7C554.6 652.5 555 661.9 555 665" fill="none" stroke="#000" stroke-width="6.1" />
<path d="M551.3 665C551.7 667.8 551.9 676.4 553.3 681.7C554.8 686.9 557.2 691.9 560 696.7C562.8 701.4 566.7 706.4 570 710C573.3 713.6 578.3 716.9 580 718.3" fill="none" stroke="#000" stroke-width="8.2" />
<path d="M552 671.7C552.4 673.6 552.7 679 554.2 683.3C555.6 687.6 558.3 693.3 560.8 697.5C563.3 701.7 567.8 706.5 569.2 708.3" fill="none" stroke="#fff" stroke-width="3.8" stroke-dasharray="4 6 3 9 4 30" style="stroke-linecap:butt"/>
<polyline points="565,648.3 565,673.3" fill="none" stroke="#000" stroke-width="3.8" />
<path d="M626.7 676.7C623.6 675 612.5 671.1 608.3 666.7C604.2 662.2 602.8 656.1 601.7 650C600.6 643.9 600.6 636.9 601.7 630C602.8 623.1 605 615.8 608.3 608.3C611.7 600.8 616.7 592.2 621.7 585C626.7 577.8 632.2 570.4 638.3 565C644.4 559.6 651.9 555 658.3 552.5C664.7 550 671.7 549.7 676.7 550C681.7 550.3 684.4 551.9 688.3 554.2C692.2 556.4 695.8 560.7 700 563.3C704.2 566 709.7 567.2 713.3 570C716.9 572.8 719.4 575.6 721.7 580C723.9 584.4 726 591.1 726.7 596.7C727.4 602.2 726.7 607.8 725.8 613.3C725 618.9 723.8 623.9 721.7 630C719.6 636.1 716.7 643.6 713.3 650C710 656.4 703.6 665.3 701.7 668.3" fill="none" stroke="#000" stroke-width="4.4" />
<path d="M603.3 610C602.9 614.2 600.8 627.2 600.8 635C600.8 642.8 601.2 650.8 603.3 656.7C605.4 662.5 608.9 665.8 613.3 670C617.8 674.2 627.2 679.7 630 681.7" fill="none" stroke="#000" stroke-width="4.4" />
<path d="M630 681.7C631.4 682.8 635.6 686.7 638.3 688.3C641.1 690 643.1 691.5 646.7 691.7C650.3 691.8 656.1 690.6 660 689.2C663.9 687.8 667.9 685.4 670 683.3C672.1 681.2 672.1 677.8 672.5 676.7" fill="none" stroke="#000" stroke-width="4.4" stroke-dasharray="9 3.5" style="stroke-linecap:butt"/>
<path d="M660 583.3C663.3 581.4 673.9 574.4 680 571.7C686.1 568.9 691.7 566.7 696.7 566.7C701.7 566.7 706.1 569.2 710 571.7C713.9 574.2 718.3 580 720 581.7" fill="none" stroke="#000" stroke-width="4.4" />
<polyline points="723.3,620 710,646.7 696.7,668.3 686.7,680" fill="none" stroke="#000" stroke-width="7.3" />
<path d="M686.7 588.3C683.3 589 678.1 590 673.3 593.3C668.6 596.7 662.5 603.1 658.3 608.3C654.2 613.6 650.7 619.2 648.3 625C646 630.8 644.4 637.8 644.2 643.3C643.9 648.9 644.9 654.7 646.7 658.3C648.5 661.9 651.7 664.4 655 665C658.3 665.6 662.8 664.2 666.7 661.7C670.6 659.2 674.7 655.3 678.3 650C681.9 644.7 685.4 636.9 688.3 630C691.2 623.1 694.3 614.2 695.8 608.3C697.4 602.5 697.9 598.2 697.5 595C697.1 591.8 695.1 590.3 693.3 589.2C691.5 588.1 690 587.6 686.7 588.3Z" fill="none" stroke="#000" stroke-width="4.7" />
<path d="M697.5 595C699 595.3 704.9 595 706.7 596.7C708.5 598.3 708.9 600.6 708.3 605C707.8 609.4 705.6 616.9 703.3 623.3C701.1 629.7 698.3 637.2 695 643.3C691.7 649.4 686.9 655.6 683.3 660C679.7 664.4 675 668.3 673.3 670" fill="none" stroke="#000" stroke-width="4.4" />
<path d="M701.7 603.3C700.8 606.7 698.9 617.2 696.7 623.3C694.4 629.4 691.4 634.4 688.3 640C685.3 645.6 680 653.9 678.3 656.7" fill="none" stroke="#000" stroke-width="5.3" stroke-dasharray="6 3" style="stroke-linecap:butt"/>
<path d="M688.3 590C690.3 590.3 696.9 590.3 700 591.7C703.1 593.1 705.6 597.2 706.7 598.3" fill="none" stroke="#000" stroke-width="7.3" />
<polyline points="675,631.7 685,636.7" fill="none" stroke="#000" stroke-width="3.8" />
<polyline points="681.7,628.3 678.3,638.3" fill="none" stroke="#000" stroke-width="3.5" />
<path d="M653.3 664.2C655 664.4 660.4 665 663.3 665.8C666.2 666.7 669.6 668.6 670.8 669.2" fill="none" stroke="#000" stroke-width="5.3" />
<polyline points="660,584.2 673.3,578.3" fill="none" stroke="#000" stroke-width="5" />
<circle cx="675.8" cy="580.8" r="4"/>
<polyline points="626.3,644.2 627.2,659.2" fill="none" stroke="#000" stroke-width="4.1" />
<ellipse cx="634.2" cy="652.5" rx="5.2" ry="4.2" transform="rotate(-40 634.2 652.5)"/>
<polyline points="711.7,605.3 723.3,605" fill="none" stroke="#000" stroke-width="4.7" />
<polyline points="713.3,608.3 713.3,613.3" fill="none" stroke="#000" stroke-width="4.4" />
<circle cx="675.8" cy="674.2" r="3.4"/>
<polyline points="705,649.2 713.3,653.3" fill="none" stroke="#000" stroke-width="3.8" />
<circle cx="588" cy="665" r="1.3"/><circle cx="534" cy="733" r="1.3"/><circle cx="617.5" cy="756" r="1.4"/><circle cx="588.5" cy="598" r="1.1"/>
</g>
<g id="hub">
<path d="M790 610C793.9 610 801.7 610.8 806.7 613.3C811.7 615.8 816.7 620.3 820 625C823.3 629.7 825.3 635.6 826.7 641.7C828.1 647.8 828.6 655.8 828.3 661.7C828.1 667.5 826.9 670.8 825 676.7C823.1 682.5 819.7 690 816.7 696.7C813.6 703.3 810 711.1 806.7 716.7C803.3 722.2 800.6 726.1 796.7 730C792.8 733.9 788.1 737.2 783.3 740C778.6 742.8 772.8 744.2 768.3 746.7C763.9 749.2 760.3 752.6 756.7 755C753.1 757.4 750.6 760.3 746.7 760.8C742.8 761.4 737.8 760.7 733.3 758.3C728.9 756 723.3 750.8 720 746.7C716.7 742.5 714.7 739.4 713.3 733.3C711.9 727.2 712.2 718.1 711.7 710C711.1 701.9 709.7 689.7 710 685C710.3 680.3 711.7 685 713.3 681.7C715 678.3 716.9 670.8 720 665C723.1 659.2 727.5 651.9 731.7 646.7C735.8 641.4 740.8 636.7 745 633.3C749.2 630 752.5 628.9 756.7 626.7C760.8 624.4 765.6 622.2 770 620C774.4 617.8 780 615 783.3 613.3C786.7 611.7 786.1 610 790 610Z" fill="#fff" stroke="#000" stroke-width="4.5" />
<path d="M758.3 633.3C760.8 631.9 768.6 627.5 773.3 625C778.1 622.5 784.4 619.4 786.7 618.3" fill="none" stroke="#000" stroke-width="3.7" />
<path d="M736.7 651.7C735.6 653.3 731.9 658.1 730 661.7C728.1 665.3 726.9 668.1 725 673.3C723.1 678.6 719.6 686.4 718.3 693.3C717.1 700.3 717.8 707.2 717.5 715C717.2 722.8 716.8 735.8 716.7 740" fill="none" stroke="#000" stroke-width="3.4" stroke-dasharray="16 4 30 4" style="stroke-linecap:butt"/>
<path d="M744.6 672.1C744.4 672.3 743.7 672.9 743.1 673.1C742.6 673.4 742.1 673.5 741.6 673.6C741 673.6 740.5 673.6 740 673.5C739.5 673.4 739 673.2 738.6 672.9C738.1 672.6 737.7 672.2 737.4 671.7C737.1 671.3 736.8 670.8 736.6 670.2C736.3 669.7 736.2 669 736.1 668.4C736.1 667.8 736.1 667.1 736.2 666.5C736.2 665.8 736.4 665.2 736.6 664.5C736.8 663.9 737.1 663.3 737.5 662.8C737.8 662.3 738.2 661.8 738.7 661.4C739.1 660.9 739.6 660.6 740.1 660.3C740.6 660.1 741.2 659.9 741.7 659.8C742.2 659.8 742.8 659.8 743.3 659.9C743.8 660 744.3 660.2 744.7 660.5C745.2 660.7 745.7 661.4 745.9 661.6" fill="none" stroke="#000" stroke-width="3.7" />
<path d="M809.7 637.9C809.5 638.1 808.9 638.7 808.5 639.1C808 639.4 807.5 639.6 806.9 639.8C806.4 640 805.8 640 805.3 640C804.7 640 804.1 639.8 803.6 639.6C803.1 639.4 802.6 639.1 802.2 638.8C801.7 638.4 801.3 637.9 801 637.4C800.7 636.9 800.4 636.4 800.3 635.8C800.1 635.2 800 634.6 800 634C800 633.4 800.1 632.8 800.3 632.2C800.4 631.6 800.7 631.1 801 630.6C801.3 630.1 801.7 629.6 802.2 629.2C802.6 628.9 803.1 628.6 803.6 628.4C804.1 628.2 804.7 628 805.3 628C805.8 628 806.4 628 806.9 628.2C807.5 628.4 808 628.6 808.5 628.9C808.9 629.3 809.5 629.9 809.7 630.1" fill="none" stroke="#000" stroke-width="3.7" />
<polyline points="806.7,635.8 823.3,643.3" fill="none" stroke="#000" stroke-width="3.4" />
<path d="M743.7 747.3C743.4 747.5 742.7 748.1 742.1 748.4C741.6 748.6 741 748.8 740.4 748.9C739.8 748.9 739.2 748.9 738.7 748.8C738.1 748.6 737.6 748.4 737.1 748.1C736.6 747.8 736.2 747.4 735.8 746.9C735.5 746.4 735.1 745.8 734.9 745.2C734.7 744.7 734.5 744 734.4 743.3C734.4 742.6 734.4 741.9 734.5 741.2C734.5 740.5 734.7 739.8 735 739.2C735.2 738.5 735.5 737.9 735.9 737.3C736.3 736.7 736.7 736.2 737.2 735.8C737.7 735.3 738.2 734.9 738.8 734.7C739.3 734.4 739.9 734.2 740.5 734.1C741 734.1 741.6 734.1 742.2 734.2C742.7 734.3 743.3 734.5 743.8 734.8C744.2 735.1 744.9 735.8 745.1 736" fill="none" stroke="#000" stroke-width="3.7" />
<ellipse cx="773" cy="638.5" rx="6.5" ry="5.5" fill="#000"/><circle cx="772" cy="637" r="2" fill="#fff"/>
<path d="M723.5 720 L733 703 L737 708 L732 722 Z" fill="#000" stroke="#000" stroke-width="2.4" stroke-linejoin="round"/>
<path d="M728.3 701.7C729.4 701.2 732.5 698.6 735 699.2C737.5 699.7 741.9 704 743.3 705" fill="none" stroke="#000" stroke-width="4" />
<path d="M793.3 652.5C791.4 652.5 785.6 651.7 781.7 652.5C777.8 653.3 774.2 654 770 657.5C765.8 661 760 667.6 756.7 673.3C753.3 679 751.4 685.8 750 691.7C748.6 697.5 748.6 706.7 748.3 708.3C748.1 710 747.5 699.2 748.3 701.7C749.2 704.2 751.1 717.5 753.3 723.3C755.6 729.2 759.2 732.8 761.7 736.7C764.2 740.6 767.2 745 768.3 746.7" fill="none" stroke="#000" stroke-width="4" />
<path d="M796.7 650C797.2 650.8 798.3 653.8 800 655C801.7 656.2 803.9 657.5 806.7 657.5C809.4 657.5 815 655.4 816.7 655" fill="none" stroke="#000" stroke-width="3.7" />
<ellipse cx="788.6" cy="697.2" rx="26.5" ry="40" transform="rotate(28 788.6 697.2)" fill="none" stroke="#000" stroke-width="4.3" />
<ellipse cx="789.2" cy="697.2" rx="19.5" ry="32.5" transform="rotate(28 789.2 697.2)" fill="none" stroke="#000" stroke-width="4.1" />
<ellipse cx="789.8" cy="697.2" rx="13.5" ry="25" transform="rotate(28 789.8 697.2)" fill="none" stroke="#000" stroke-width="3.8" />
<ellipse cx="790.4" cy="696.9" rx="8" ry="17" transform="rotate(28 790.4 696.9)" fill="none" stroke="#000" stroke-width="3.8" />
<path d="M795.6 666.2 L797 666.1 L798.3 666 L799.6 666.1 L800.9 666.2 L802.1 666.5 L803.3 666.9 L804.4 667.3 L805.5 667.9 L806.5 668.6 L807.4 669.4 L808.4 670.2 L809.2 671.2 L810 672.2 L810.7 673.4 L811.3 674.6 L811.8 675.8 L812.3 677.2 L812.7 678.6 L813 680.1 L813.3 681.7 L813.4 683.3 L813.5 684.9 L813.5 686.6 L813.4 688.3" fill="none" stroke="#000" stroke-width="9" />
<path d="M801.5 666.4 L802.2 666.5 L803 666.8 L803.7 667 L804.4 667.3 L805.1 667.7 L805.7 668.1 L806.4 668.5 L807 669 L807.6 669.5 L808.1 670 L808.7 670.6 L809.2 671.2 L809.7 671.8 L810.1 672.5 L810.6 673.2 L811 673.9 L811.4 674.7 L811.7 675.5 L812 676.3 L812.3 677.2 L812.6 678.1 L812.8 679 L813 679.9 L813.2 680.9" fill="none" stroke="#fff" stroke-width="1.9" stroke-dasharray="3 5" style="stroke-linecap:butt"/>
<path d="M799.7 698.6 L799.1 700 L798.3 701.4 L797.6 702.8 L796.8 704.1 L795.9 705.4 L795 706.6 L794 707.7 L793.1 708.8 L792.1 709.8 L791.1 710.7 L790 711.4 L789 712.1 L788 712.6 L787.1 713.1 L786.1 713.4 L785.2 713.6 L784.3 713.6 L783.5 713.6 L782.7 713.4 L781.9 713.1 L781.3 712.7 L780.7 712.1 L780.2 711.5 L779.7 710.7" fill="none" stroke="#000" stroke-width="8.4" />
<path d="M786.6 731.4 L785 731.9 L783.4 732.3 L781.8 732.6 L780.2 732.7 L778.6 732.7 L777.1 732.6 L775.6 732.4 L774.1 732.1 L772.8 731.6 L771.4 731.1 L770.1 730.4 L768.9 729.6 L767.7 728.7 L766.7 727.7 L765.7 726.6 L764.7 725.4 L763.9 724 L763.1 722.6 L762.4 721.2 L761.8 719.6 L761.3 718 L760.9 716.2 L760.6 714.5 L760.4 712.6" fill="none" stroke="#000" stroke-width="10.2" />
<path d="M784.2 732.1 L782.8 732.4 L781.4 732.6 L780 732.7 L778.6 732.7 L777.3 732.7 L776 732.5 L774.7 732.2 L773.4 731.9 L772.2 731.4 L771.1 730.9 L770 730.3 L768.9 729.6 L767.9 728.8 L766.9 727.9 L766 727 L765.2 726 L764.4 724.9 L763.7 723.7 L763 722.5 L762.4 721.2 L761.9 719.8 L761.4 718.4 L761.1 716.9 L760.7 715.4" fill="none" stroke="#fff" stroke-width="2.6" stroke-dasharray="2.5 4" style="stroke-linecap:butt"/>
<path d="M759.2 716.3 L758.9 714.6 L758.7 712.9 L758.6 711.1 L758.6 709.3 L758.6 707.5 L758.8 705.7 L759 703.8 L759.3 701.9 L759.6 700 L760.1 698.1 L760.6 696.2 L761.1 694.3 L761.8 692.4 L762.5 690.5 L763.3 688.7 L764.1 686.8 L765.1 685 L766 683.2 L767.1 681.5 L768.2 679.8 L769.3 678.1 L770.5 676.5 L771.8 674.9 L773 673.4" fill="none" stroke="#000" stroke-width="6" />
<path d="M816.6 672.8 L817.3 675 L817.8 677.2 L818.3 679.6 L818.5 682 L818.6 684.5 L818.5 687.1 L818.3 689.8 L817.9 692.5 L817.4 695.2 L816.7 697.9 L815.9 700.6 L814.9 703.3 L813.8 706 L812.5 708.6 L811.2 711.2 L809.7 713.7 L808.1 716.1 L806.3 718.4 L804.5 720.5 L802.6 722.6 L800.7 724.5 L798.7 726.3 L796.6 728 L794.5 729.4" fill="none" stroke="#000" stroke-width="6" />
<polyline points="782,694 791,699" fill="none" stroke="#000" stroke-width="3.6" />
<polyline points="789.5,690 786,703" fill="none" stroke="#000" stroke-width="3.4" />
</g>
<g id="part29">
<path d="M690.6 441.2C692.5 441.2 695 440.8 698.1 443.1C701.2 445.3 705 451.5 709.2 454.6C713.3 457.7 720.2 459.9 723.2 461.9C726.3 464 726.8 465.2 727.4 466.9C728 468.7 727.5 470.5 726.8 472.2C726.1 473.8 724.8 476 723.2 476.8C721.6 477.6 720.4 478.2 717.2 476.8C714 475.4 708.2 470.6 704.1 468.4C700.1 466.1 696.1 464.7 693.1 463.5C690.1 462.4 688 462.5 686.3 461.3C684.5 460.1 683 458.3 682.4 456.3C681.9 454.3 682.4 451.3 683.1 449.1C683.7 446.9 685.2 444.4 686.5 443.1C687.7 441.7 688.6 441.2 690.6 441.2Z" fill="#000" stroke="#000" stroke-width="3.4" stroke-linejoin="round"/>
<path d="M685.1 449.1C686.1 447.8 688.5 446.2 690.6 445.9C692.7 445.5 696.2 446.1 697.6 446.9C699.1 447.7 699.8 449.2 699.3 450.6C698.8 452 696.6 454.1 694.6 455.1C692.6 456.1 689.2 456.6 687.6 456.3C685.9 456 685 454.5 684.6 453.3C684.1 452.1 684.1 450.3 685.1 449.1Z" fill="#fff" stroke="none"/>
<path d="M695.6 448.9C694.8 448.9 691.8 448.8 690.6 449.3C689.3 449.7 688.2 450.9 688.1 451.7C688 452.5 689.7 453.9 690.1 454.3" fill="none" stroke="#000" stroke-width="3.1" />
<path d="M693.1 456.9C694.3 456.2 697.3 455.2 700.1 455.7C703 456.2 706.7 458.5 710.2 459.9C713.6 461.4 718.6 462.9 720.7 464.3C722.8 465.7 723.1 467.2 723 468.4C722.9 469.5 721.7 471.2 720.2 471.4C718.7 471.5 716.2 470.4 714.2 469.4C712.2 468.4 710.7 466.5 708.2 465.3C705.6 464.2 701.2 463.2 698.6 462.3C696 461.5 693.5 461 692.6 460.1C691.7 459.2 691.8 457.6 693.1 456.9Z" fill="#fff" stroke="none"/>
<circle cx="697.3" cy="459.7" r="1.5" fill="#000"/>
<circle cx="703.6" cy="462.3" r="1.6" fill="#000"/>
<circle cx="710.0" cy="463.1" r="1.5" fill="#000"/>
<circle cx="714.7" cy="466.9" r="1.6" fill="#000"/>
<circle cx="705.3" cy="460.1" r="1.2" fill="#000"/>
<circle cx="718.2" cy="468.7" r="1.4" fill="#000"/>
<polyline points="700.1,458.6 703.1,463.1" fill="none" stroke="#000" stroke-width="2.2" />
<polyline points="711.2,463.6 712.7,467.7" fill="none" stroke="#000" stroke-width="2.2" />
<polyline points="729.7,474.5 754.5,489 755.6,491 755.6,535" fill="none" stroke="#000" stroke-width="3.5" />
<line x1="755.6" y1="535" x2="755.6" y2="626" stroke="#000" stroke-width="3.5" stroke-dasharray="24 4.5" stroke-dashoffset="-3" style="stroke-linecap:butt"/>
</g>
<g id="bracket26">
<polyline points="713.3,405 713.3,394.5 803,395 803,611" fill="none" stroke="#000" stroke-width="4.1" style="stroke-linejoin:miter;stroke-linecap:butt"/>
<line x1="761" y1="389.5" x2="761" y2="395" stroke="#000" stroke-width="3.1" />
</g>
<g id="bolt">
<path d="M846.9 598.9C848 597.4 850.6 594.7 853.1 594.3C855.7 593.8 858.7 594.8 862.2 596.3C865.6 597.8 870.4 602 873.7 603.3C877.1 604.6 879.6 603.3 882.2 603.9C884.9 604.5 887.6 605.1 889.8 606.9C892 608.8 894.5 612.5 895.3 615.2C896.1 617.8 895.6 620.6 894.5 623C893.4 625.4 891.2 628.2 888.9 629.4C886.5 630.7 883.1 630.8 880.4 630.4C877.8 630.1 874.9 628.9 873 627.4C871.1 625.9 871.1 623.6 869 621.4C866.9 619.2 863.6 616.5 860.6 614.2C857.6 611.8 853.2 609.1 850.9 607.3C848.6 605.5 847.4 604.7 846.7 603.3C846 601.9 845.8 600.4 846.9 598.9Z" fill="#000" stroke="#000" stroke-width="2.2" stroke-linejoin="round"/>
<ellipse cx="853.6" cy="601.3" rx="5.2" ry="2.6" fill="#fff" transform="rotate(32 853.6 601.3)"/>
<ellipse cx="860.2" cy="605.6" rx="2.6" ry="2.0" fill="#fff" transform="rotate(30 860.2 605.6)"/>
<ellipse cx="867.4" cy="609.6" rx="5.4" ry="3.8" fill="#fff" transform="rotate(-50 867.4 609.6)"/>
<ellipse cx="880.2" cy="617.0" rx="4.4" ry="4.0" fill="#fff" transform="rotate(0 880.2 617.0)"/>
<ellipse cx="887.5" cy="621.0" rx="6.2" ry="3.2" fill="#fff" transform="rotate(-60 887.5 621.0)"/>
<ellipse cx="872.2" cy="619.2" rx="2.2" ry="1.8" fill="#fff" transform="rotate(0 872.2 619.2)"/>
<ellipse cx="874.7" cy="608.1" rx="2.6" ry="1.6" fill="#fff" transform="rotate(30 874.7 608.1)"/>
<polyline points="846.5,596.5 831.2,587.6 830.5,589 830.5,621.7" fill="none" stroke="#000" stroke-width="3.5" />
<line x1="830.5" y1="627" x2="830.5" y2="648" stroke="#000" stroke-width="3.5" />
<line x1="882.2" y1="551.5" x2="882.2" y2="604" stroke="#000" stroke-width="3.5" />
</g>
<g id="washer_nut_pin">
<ellipse cx="839.5" cy="729.8" rx="19" ry="27" transform="rotate(28 839.5 729.8)" fill="#fff" stroke="#000" stroke-width="5.3" />
<ellipse cx="842.8" cy="730.6" rx="10.5" ry="17" transform="rotate(28 842.8 730.6)" fill="none" stroke="#000" stroke-width="4.6" />
<path d="M838.5 746.4 L837.2 746.3 L835.9 746.1 L834.8 745.6 L833.8 744.9 L832.9 744.1 L832.1 743 L831.5 741.8 L831 740.4 L830.7 738.9 L830.6 737.3 L830.6 735.6 L830.8 733.8 L831.1 732 L831.6 730.2 L832.3 728.4 L833.1 726.6 L834 724.8 L835.1 723.1 L836.2 721.6 L837.4 720.1 L838.8 718.8 L840.1 717.7 L841.5 716.7 L843 715.9" fill="none" stroke="#000" stroke-width="6.5" />
<polyline points="837.1,739 847.7,725.1" fill="none" stroke="#000" stroke-width="4.3" />
<path d="M882.3 731.1C886.3 730.9 890.9 732.4 894.3 734.5C897.7 736.5 900.9 739.7 902.6 743.2C904.4 746.7 905.3 751.2 904.9 755.2C904.5 759.3 902.2 763.6 900.4 767.3C898.5 770.9 896.6 775 893.6 777.1C890.6 779.1 886.2 779.8 882.3 779.6C878.4 779.5 873.8 778.1 870.2 776.3C866.7 774.5 863.2 771.8 861.2 768.8C859.2 765.8 858.2 762 858.2 758.3C858.2 754.5 859.2 750 861.2 746.2C863.2 742.4 866.7 738.2 870.2 735.7C873.8 733.2 878.3 731.3 882.3 731.1Z" fill="#000" stroke="#000" stroke-width="2.4" stroke-linejoin="round"/>
<ellipse cx="880.0" cy="737.9" rx="5.1" ry="3.6" fill="#fff" transform="rotate(82 880.0 737.9)"/>
<ellipse cx="895.1" cy="745.5" rx="4.6" ry="5.1" fill="#fff" transform="rotate(38 895.1 745.5)"/>
<ellipse cx="869.5" cy="750.7" rx="4.1" ry="5.6" fill="#fff" transform="rotate(101 869.5 750.7)"/>
<ellipse cx="883.8" cy="750.0" rx="3.1" ry="3.1" fill="#fff" transform="rotate(166 883.8 750.0)"/>
<ellipse cx="896.6" cy="758.3" rx="4.1" ry="5.6" fill="#fff" transform="rotate(12 896.6 758.3)"/>
<ellipse cx="876.3" cy="761.3" rx="5.1" ry="3.3" fill="#fff" transform="rotate(18 876.3 761.3)"/>
<ellipse cx="891.3" cy="768.8" rx="4.1" ry="6.1" fill="#fff" transform="rotate(137 891.3 768.8)"/>
<ellipse cx="865.7" cy="763.5" rx="3.6" ry="4.1" fill="#fff" transform="rotate(24 865.7 763.5)"/>
<ellipse cx="880.8" cy="773.3" rx="6.7" ry="4.1" fill="#fff" transform="rotate(93 880.8 773.3)"/>
<ellipse cx="888.3" cy="740.2" rx="2.3" ry="2.0" fill="#fff" transform="rotate(149 888.3 740.2)"/>
<ellipse cx="900.4" cy="751.5" rx="2.0" ry="2.0" fill="#fff" transform="rotate(14 900.4 751.5)"/>
<ellipse cx="873.3" cy="743.2" rx="2.6" ry="3.1" fill="#fff" transform="rotate(129 873.3 743.2)"/>
<ellipse cx="886.8" cy="759.8" rx="2.6" ry="2.6" fill="#fff" transform="rotate(54 886.8 759.8)"/>
<path d="M874 780.1C875.1 780.5 878.6 782.1 880.8 782.3C882.9 782.6 885.8 781.8 886.8 781.7" fill="none" stroke="#000" stroke-width="4.6" />
<polyline points="907.1,798.6 924.5,785.1 941,772.6" fill="none" stroke="#000" stroke-width="7.9" />
<path d="M935.8 768C938.5 766.5 944.5 767 947 767.6C949.6 768.2 950.4 770.4 950.8 771.8C951.2 773.3 950.7 775.3 949.3 776.3C947.9 777.4 944.9 777.4 942.5 778.1C940.1 778.9 937 781 935 780.8C933 780.7 930.4 779.2 930.5 777.1C930.6 774.9 933 769.6 935.8 768Z" fill="#000" stroke="#000" stroke-width="2" stroke-linejoin="round"/>
<line x1="815.5" y1="714.5" x2="822.5" y2="719" stroke="#000" stroke-width="3.5" />
<line x1="855" y1="738.7" x2="862.5" y2="743.2" stroke="#000" stroke-width="3.5" />
<line x1="900.4" y1="768.8" x2="921.4" y2="784" stroke="#000" stroke-width="3.5" />
<line x1="825.8" y1="757" x2="825.8" y2="793" stroke="#000" stroke-width="3.5" />
<line x1="872" y1="782" x2="872" y2="829.5" stroke="#000" stroke-width="3.5" />
<line x1="921.6" y1="789" x2="921.6" y2="860" stroke="#000" stroke-width="3.5" />
</g>
<g id="leaders">
<line x1="560.8" y1="111" x2="560.8" y2="167" stroke="#000" stroke-width="3.5" />
<line x1="150" y1="215" x2="150" y2="258" stroke="#000" stroke-width="3.5" />
<line x1="68" y1="302" x2="68" y2="339" stroke="#000" stroke-width="3.5" />
<line x1="423" y1="414" x2="423" y2="442" stroke="#000" stroke-width="3.5" />
<line x1="488.3" y1="442" x2="488.3" y2="466" stroke="#000" stroke-width="3.5" />
<line x1="552.5" y1="482.5" x2="552.5" y2="510" stroke="#000" stroke-width="3.5" />
<line x1="632.8" y1="461" x2="632.8" y2="502.5" stroke="#000" stroke-width="3.5" />
<line x1="714.2" y1="435" x2="714.2" y2="452" stroke="#000" stroke-width="3.5" />
</g>
<g id="labels" fill="#000">
<text x="544.5" y="106.3" font-family="'Liberation Sans', sans-serif" font-size="29.6" font-weight="normal" text-anchor="start" textLength="31.6" lengthAdjust="spacingAndGlyphs" stroke="#000" stroke-width="1.2" stroke-linejoin="round">48</text>
<text x="134.9" y="210.2" font-family="'Liberation Sans', sans-serif" font-size="29.6" font-weight="normal" text-anchor="start" textLength="31.6" lengthAdjust="spacingAndGlyphs" stroke="#000" stroke-width="1.2" stroke-linejoin="round">22</text>
<text x="50.5" y="363.9" font-family="'Liberation Sans', sans-serif" font-size="29.6" font-weight="normal" text-anchor="start" textLength="31.6" lengthAdjust="spacingAndGlyphs" stroke="#000" stroke-width="1.2" stroke-linejoin="round">46</text>
<text x="408.3" y="408.8" font-family="'Liberation Sans', sans-serif" font-size="29.6" font-weight="normal" text-anchor="start" textLength="31.6" lengthAdjust="spacingAndGlyphs" stroke="#000" stroke-width="1.2" stroke-linejoin="round">45</text>
<text x="469.8" y="437.4" font-family="'Liberation Sans', sans-serif" font-size="29.6" font-weight="normal" text-anchor="start" textLength="30.5" lengthAdjust="spacingAndGlyphs" stroke="#000" stroke-width="1.2" stroke-linejoin="round">21</text>
<text x="537.8" y="478.1" font-family="'Liberation Sans', sans-serif" font-size="29.6" font-weight="normal" text-anchor="start" textLength="31.6" lengthAdjust="spacingAndGlyphs" stroke="#000" stroke-width="1.2" stroke-linejoin="round">32</text>
<text x="616.9" y="456.1" font-family="'Liberation Sans', sans-serif" font-size="29.6" font-weight="normal" text-anchor="start" textLength="31.6" lengthAdjust="spacingAndGlyphs" stroke="#000" stroke-width="1.2" stroke-linejoin="round">44</text>
<text x="697.9" y="429.4" font-family="'Liberation Sans', sans-serif" font-size="29.6" font-weight="normal" text-anchor="start" textLength="31.6" lengthAdjust="spacingAndGlyphs" stroke="#000" stroke-width="1.2" stroke-linejoin="round">29</text>
<text x="745.1" y="385.8" font-family="'Liberation Sans', sans-serif" font-size="29.6" font-weight="normal" text-anchor="start" textLength="31.6" lengthAdjust="spacingAndGlyphs" stroke="#000" stroke-width="1.2" stroke-linejoin="round">26</text>
</g>
<g id="partnumbers" fill="#000">
<text x="806" y="547.2" font-family="'Liberation Sans', sans-serif" font-size="18.4" font-weight="bold" text-anchor="start" textLength="174" lengthAdjust="spacingAndGlyphs" stroke="#000" stroke-width="0.7" stroke-linejoin="round">90041-19620-000(4)</text>
<text x="685" y="809.6" font-family="'Liberation Sans', sans-serif" font-size="18.4" font-weight="bold" text-anchor="start" textLength="172" lengthAdjust="spacingAndGlyphs" stroke="#000" stroke-width="0.7" stroke-linejoin="round">90042-01224-000(1)</text>
<text x="735" y="846.4" font-family="'Liberation Sans', sans-serif" font-size="18.4" font-weight="bold" text-anchor="start" textLength="176.5" lengthAdjust="spacingAndGlyphs" stroke="#000" stroke-width="0.7" stroke-linejoin="round">90041-71063-000(1)</text>
<text x="776.7" y="876.6" font-family="'Liberation Sans', sans-serif" font-size="18.4" font-weight="bold" text-anchor="start" textLength="175" lengthAdjust="spacingAndGlyphs" stroke="#000" stroke-width="0.7" stroke-linejoin="round">90042-52016-000(1)</text>
<circle cx="674" cy="800.5" r="7.1" fill="#000" stroke="#000" stroke-width="1.2"/>
<path d="M671.5 799.0 l3 -1 M673 801.5 l1.5 2.5" stroke="#fff" stroke-width="1.3" fill="none"/>
<circle cx="727.5" cy="839" r="7.1" fill="#000" stroke="#000" stroke-width="1.2"/>
<path d="M725.0 837.5 l3 -1 M726.5 840 l1.5 2.5" stroke="#fff" stroke-width="1.3" fill="none"/>
<circle cx="768.5" cy="868.5" r="7.1" fill="#000" stroke="#000" stroke-width="1.2"/>
<path d="M766.0 867.0 l3 -1 M767.5 869.5 l1.5 2.5" stroke="#fff" stroke-width="1.3" fill="none"/>
</g>
<g id="specks" fill="#000">
<circle cx="766" cy="594" r="1.3"/>
<circle cx="934" cy="670" r="1.2"/>
<circle cx="676.7" cy="886.7" r="1.3"/>
<circle cx="858" cy="889" r="1.2"/>
<circle cx="766.7" cy="817.7" r="1.0"/>
<circle cx="549" cy="879" r="1.2"/>
<circle cx="565" cy="294.6" r="1.0"/>
</g>
<g id="arrows" fill="#fb0a2a" stroke="none">
<polygon points="119,231 165,191 194,188.5 157,220 265.5,209 266.5,223 158,234 201,258 172,260"/>
<polygon points="194,308 255,267.4 291,265.4 243,298.4 377.5,292.4 378.5,307.4 244,314 294,342.4 263,343.6"/>
<polygon points="265.6,525 382,525 338,492 369.4,492 423.6,533.6 369.4,575.6 338,575.6 382,542 265.6,542"/>
<polygon points="397,577 481,577 449,557 472,557 511,582 472,607.6 449,607.6 481,588 397,588"/>
<polygon points="672.4,770 809,770 758,753.2 793,753.2 857,774 793,794.8 758,794.8 809,778.4 672.4,778.4"/>
</g>
</svg>
</body>
</html>
